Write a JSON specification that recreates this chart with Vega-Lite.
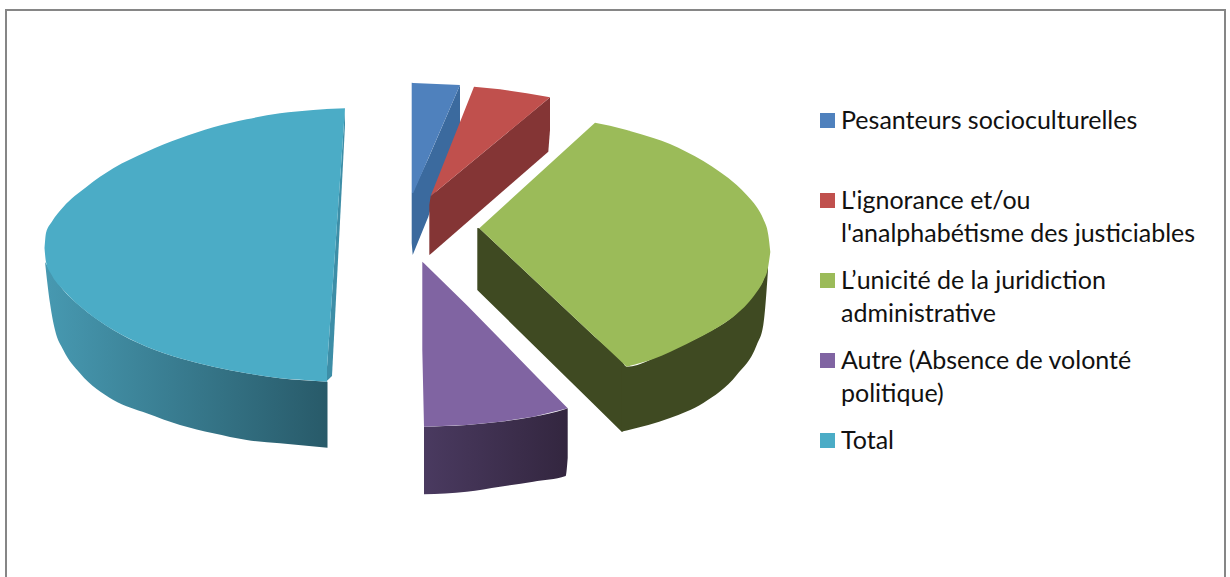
{
"$schema":"https://vega.github.io/schema/vega-lite/v6.json",
"width":1219,"height":600,"autosize":"none",
"padding":{"left":6,"top":10,"right":5,"bottom":0},
"background":"white",
"view":{"stroke":"#868686","strokeWidth":2,"fill":"white"},
"config":{"font":"Lato"},
"datasets":{"outlines":[
{"s":"Pesanteurs socioculturelles","f":"top","c":"flat","h":411.7,"v":82.7,"v2":193},
{"s":"Pesanteurs socioculturelles","f":"top","c":"flat","h":413.3,"v":83,"v2":193},
{"s":"Pesanteurs socioculturelles","f":"top","c":"flat","h":460,"v":85,"v2":85},
{"s":"Pesanteurs socioculturelles","f":"wall","c":"flat","h":411.7,"v":193,"v2":243},
{"s":"Pesanteurs socioculturelles","f":"wall","c":"flat","h":412.7,"v":192,"v2":255},
{"s":"Pesanteurs socioculturelles","f":"wall","c":"flat","h":428.3,"v":158.5,"v2":216.7},
{"s":"Pesanteurs socioculturelles","f":"wall","c":"flat","h":443.3,"v":123.7,"v2":166.7},
{"s":"Pesanteurs socioculturelles","f":"wall","c":"flat","h":460,"v":85,"v2":126.7},
{"s":"L'ignorance et/ou l'analphabétisme des justiciables","f":"top","c":"flat","h":430.7,"v":196,"v2":196},
{"s":"L'ignorance et/ou l'analphabétisme des justiciables","f":"top","c":"flat","h":474,"v":86.7,"v2":160.2},
{"s":"L'ignorance et/ou l'analphabétisme des justiciables","f":"top","c":"flat","h":500,"v":89.3,"v2":138.7},
{"s":"L'ignorance et/ou l'analphabétisme des justiciables","f":"top","c":"flat","h":526.7,"v":93.3,"v2":116.8},
{"s":"L'ignorance et/ou l'analphabétisme des justiciables","f":"top","c":"flat","h":550,"v":97.3,"v2":97.3},
{"s":"L'ignorance et/ou l'analphabétisme des justiciables","f":"wall","c":"flat","h":429.3,"v":205,"v2":255},
{"s":"L'ignorance et/ou l'analphabétisme des justiciables","f":"wall","c":"flat","h":430.7,"v":196,"v2":254},
{"s":"L'ignorance et/ou l'analphabétisme des justiciables","f":"wall","c":"flat","h":548.3,"v":98.7,"v2":151.7},
{"s":"L'ignorance et/ou l'analphabétisme des justiciables","f":"wall","c":"flat","h":550,"v":97.3,"v2":130},
{"s":"L’unicité de la juridiction administrative","f":"top","c":"flat","h":479.3,"v":228.3,"v2":228.3},
{"s":"L’unicité de la juridiction administrative","f":"top","c":"flat","h":595,"v":122.7,"v2":336.9},
{"s":"L’unicité de la juridiction administrative","f":"top","c":"flat","h":610,"v":125.7,"v2":351},
{"s":"L’unicité de la juridiction administrative","f":"top","c":"flat","h":626.7,"v":130,"v2":366.7},
{"s":"L’unicité de la juridiction administrative","f":"top","c":"flat","h":630,"v":131,"v2":365.8},
{"s":"L’unicité de la juridiction administrative","f":"top","c":"curve","h":629,"v":130.7,"v2":366},
{"s":"L’unicité de la juridiction administrative","f":"top","c":"curve","h":653.3,"v":138,"v2":359},
{"s":"L’unicité de la juridiction administrative","f":"top","c":"curve","h":670,"v":144,"v2":352},
{"s":"L’unicité de la juridiction administrative","f":"top","c":"curve","h":686.7,"v":152,"v2":344},
{"s":"L’unicité de la juridiction administrative","f":"top","c":"curve","h":703.3,"v":161,"v2":335.5},
{"s":"L’unicité de la juridiction administrative","f":"top","c":"curve","h":720,"v":172,"v2":326},
{"s":"L’unicité de la juridiction administrative","f":"top","c":"curve","h":736.7,"v":185,"v2":314},
{"s":"L’unicité de la juridiction administrative","f":"top","c":"curve","h":746.7,"v":195,"v2":304.5},
{"s":"L’unicité de la juridiction administrative","f":"top","c":"curve","h":756.7,"v":207,"v2":292},
{"s":"L’unicité de la juridiction administrative","f":"top","c":"curve","h":763.3,"v":219,"v2":281},
{"s":"L’unicité de la juridiction administrative","f":"top","c":"curve","h":768.3,"v":235,"v2":266},
{"s":"L’unicité de la juridiction administrative","f":"top","c":"curve","h":770.3,"v":252,"v2":252},
{"s":"L’unicité de la juridiction administrative","f":"wall","c":"flat","h":477.3,"v":228,"v2":290},
{"s":"L’unicité de la juridiction administrative","f":"wall","c":"flat","h":479.3,"v":228.3,"v2":292},
{"s":"L’unicité de la juridiction administrative","f":"wall","c":"flat","h":595,"v":336.9,"v2":405.4},
{"s":"L’unicité de la juridiction administrative","f":"wall","c":"flat","h":621.7,"v":360,"v2":431.7},
{"s":"L’unicité de la juridiction administrative","f":"wall","c":"flat","h":623,"v":361.5,"v2":431.3},
{"s":"L’unicité de la juridiction administrative","f":"wall","c":"curve","h":621.7,"v":360,"v2":431.7},
{"s":"L’unicité de la juridiction administrative","f":"wall","c":"curve","h":626.7,"v":366.7,"v2":430.5},
{"s":"L’unicité de la juridiction administrative","f":"wall","c":"curve","h":670,"v":350,"v2":418},
{"s":"L’unicité de la juridiction administrative","f":"wall","c":"curve","h":703.3,"v":335,"v2":403},
{"s":"L’unicité de la juridiction administrative","f":"wall","c":"curve","h":736.7,"v":313.3,"v2":375},
{"s":"L’unicité de la juridiction administrative","f":"wall","c":"curve","h":756.7,"v":290,"v2":345},
{"s":"L’unicité de la juridiction administrative","f":"wall","c":"curve","h":763.3,"v":280,"v2":325},
{"s":"L’unicité de la juridiction administrative","f":"wall","c":"curve","h":768,"v":265,"v2":270},
{"s":"Autre (Absence de volonté politique)","f":"top","c":"flat","h":422.3,"v":261.7,"v2":350},
{"s":"Autre (Absence de volonté politique)","f":"top","c":"flat","h":424,"v":263.3,"v2":426.7},
{"s":"Autre (Absence de volonté politique)","f":"top","c":"flat","h":466.7,"v":305,"v2":425},
{"s":"Autre (Absence de volonté politique)","f":"top","c":"flat","h":500,"v":339,"v2":421.7},
{"s":"Autre (Absence de volonté politique)","f":"top","c":"flat","h":533.3,"v":373.3,"v2":416.7},
{"s":"Autre (Absence de volonté politique)","f":"top","c":"flat","h":567.7,"v":408.3,"v2":408.3},
{"s":"Autre (Absence de volonté politique)","f":"wall","c":"flat","h":424,"v":426.7,"v2":494.3},
{"s":"Autre (Absence de volonté politique)","f":"wall","c":"flat","h":466.7,"v":425,"v2":491.7},
{"s":"Autre (Absence de volonté politique)","f":"wall","c":"flat","h":500,"v":421.7,"v2":486.7},
{"s":"Autre (Absence de volonté politique)","f":"wall","c":"flat","h":533.3,"v":416.7,"v2":481.7},
{"s":"Autre (Absence de volonté politique)","f":"wall","c":"flat","h":565.7,"v":409,"v2":476},
{"s":"Autre (Absence de volonté politique)","f":"wall","c":"flat","h":567.7,"v":408.3,"v2":458},
{"s":"Total","f":"top","c":"curve","h":44.5,"v":248,"v2":248},
{"s":"Total","f":"top","c":"curve","h":46,"v":233,"v2":262},
{"s":"Total","f":"top","c":"curve","h":51.7,"v":222,"v2":275},
{"s":"Total","f":"top","c":"curve","h":63.3,"v":207,"v2":290},
{"s":"Total","f":"top","c":"curve","h":86.7,"v":186.7,"v2":311.7},
{"s":"Total","f":"top","c":"curve","h":113.3,"v":168.3,"v2":330},
{"s":"Total","f":"top","c":"curve","h":146.7,"v":151.7,"v2":346.7},
{"s":"Total","f":"top","c":"curve","h":180,"v":138.3,"v2":358.3},
{"s":"Total","f":"top","c":"curve","h":213.3,"v":127.3,"v2":366.7},
{"s":"Total","f":"top","c":"curve","h":246.7,"v":119.3,"v2":373.3},
{"s":"Total","f":"top","c":"curve","h":280,"v":113.3,"v2":378.3},
{"s":"Total","f":"top","c":"curve","h":313.3,"v":110,"v2":380.7},
{"s":"Total","f":"top","c":"curve","h":327,"v":109,"v2":381.7},
{"s":"Total","f":"top","c":"flat","h":326,"v":109,"v2":381.7},
{"s":"Total","f":"top","c":"flat","h":345,"v":108.3,"v2":108.3},
{"s":"Total","f":"wall","c":"curve","h":45,"v":262,"v2":262},
{"s":"Total","f":"wall","c":"curve","h":50,"v":270,"v2":303.3},
{"s":"Total","f":"wall","c":"curve","h":55,"v":278,"v2":330},
{"s":"Total","f":"wall","c":"curve","h":63.3,"v":290,"v2":350},
{"s":"Total","f":"wall","c":"curve","h":80,"v":306,"v2":373.3},
{"s":"Total","f":"wall","c":"curve","h":113.3,"v":330,"v2":400},
{"s":"Total","f":"wall","c":"curve","h":146.7,"v":346.7,"v2":413.3},
{"s":"Total","f":"wall","c":"curve","h":180,"v":358.3,"v2":425},
{"s":"Total","f":"wall","c":"curve","h":213.3,"v":366.7,"v2":433.3},
{"s":"Total","f":"wall","c":"curve","h":246.7,"v":373.3,"v2":440},
{"s":"Total","f":"wall","c":"curve","h":280,"v":378.3,"v2":443.3},
{"s":"Total","f":"wall","c":"curve","h":327.5,"v":381.7,"v2":447.7},
{"s":"Total","f":"edge","c":"flat","h":326,"v":381.7,"v2":381.7},
{"s":"Total","f":"edge","c":"flat","h":332,"v":295,"v2":376},
{"s":"Total","f":"edge","c":"flat","h":345,"v":108.3,"v2":125}
]},
"data":{"name":"outlines"},
"encoding":{
"x":{"field":"h","type":"quantitative","axis":null,"scale":{"domain":[6,1225],"nice":false,"zero":false}},
"y":{"field":"v","type":"quantitative","axis":null,"stack":null,"scale":{"domain":[10,610],"reverse":true,"nice":false,"zero":false}},
"y2":{"field":"v2"}
},
"layer":[
{"transform":[{"filter":"datum.f=='wall' && datum.s=='Pesanteurs socioculturelles'"}],"mark":{"type":"area","color":"#3B6A9E"}},
{"transform":[{"filter":"datum.f=='top' && datum.s=='Pesanteurs socioculturelles'"}],"mark":{"type":"area"},
 "encoding":{"color":{"field":"s","type":"nominal","scale":{"domain":["Pesanteurs socioculturelles","L'ignorance et/ou l'analphabétisme des justiciables","L’unicité de la juridiction administrative","Autre (Absence de volonté politique)","Total"],"range":["#4F81BD","#C0504D","#9BBB59","#8064A2","#4BACC6"]},
  "legend":{"orient":"none","legendX":809,"legendY":98,"title":null,"columns":1,"gridAlign":"all","rowPadding":21,"symbolType":"square","symbolSize":225,"symbolStrokeWidth":0,"symbolOpacity":1,"labelFont":"Lato","labelFontSize":25,"labelColor":"#111111","labelOffset":1,"labelLimit":0,"labelBaseline":"top",
  "labelExpr":"datum.label=='Pesanteurs socioculturelles'?datum.label:datum.label=='Total'?datum.label:datum.label[0]=='A'?['Autre (Absence de volonté','politique)']:datum.label[2]=='i'?['L\\'ignorance et/ou','l\\'analphabétisme des justiciables']:['L’unicité de la juridiction','administrative']",
  "encode":{"labels":{"update":{"lineHeight":{"value":33},"dy":{"value":-12}}}}}}}},
{"transform":[{"filter":"datum.f=='wall' && datum.s[0]=='L' && datum.s[2]=='i'"}],"mark":{"type":"area","color":"#843535"}},
{"transform":[{"filter":"datum.f=='wall' && datum.s[2]=='u' && datum.c=='flat'"}],"mark":{"type":"area","color":"#3F4A22"}},
{"transform":[{"filter":"datum.f=='wall' && datum.s[2]=='u' && datum.c=='curve'"}],"mark":{"type":"area","color":"#3F4A22","interpolate":"monotone"}},
{"transform":[{"filter":"datum.f=='wall' && datum.s[0]=='A'"}],"mark":{"type":"area","interpolate":"monotone","color":{"gradient":"linear","x1":0,"x2":1,"y1":0,"y2":0,"stops":[{"offset":0,"color":"#4A3A60"},{"offset":1,"color":"#33263F"}]}}},
{"transform":[{"filter":"datum.f=='wall' && datum.s=='Total'"}],"mark":{"type":"area","interpolate":"monotone","color":{"gradient":"linear","x1":0,"x2":1,"y1":0,"y2":0,"stops":[{"offset":0,"color":"#4799B1"},{"offset":1,"color":"#285A69"}]}}},
{"transform":[{"filter":"datum.f=='edge'"}],"mark":{"type":"area","color":"#3D8EA7"}},
{"transform":[{"filter":"datum.f=='top' && datum.s!='Pesanteurs socioculturelles' && datum.c=='flat'"}],"mark":{"type":"area"},
 "encoding":{"color":{"field":"s","type":"nominal"}}},
{"transform":[{"filter":"datum.f=='top' && datum.c=='curve'"}],"mark":{"type":"area","interpolate":"monotone"},
 "encoding":{"color":{"field":"s","type":"nominal"}}}
]
}
